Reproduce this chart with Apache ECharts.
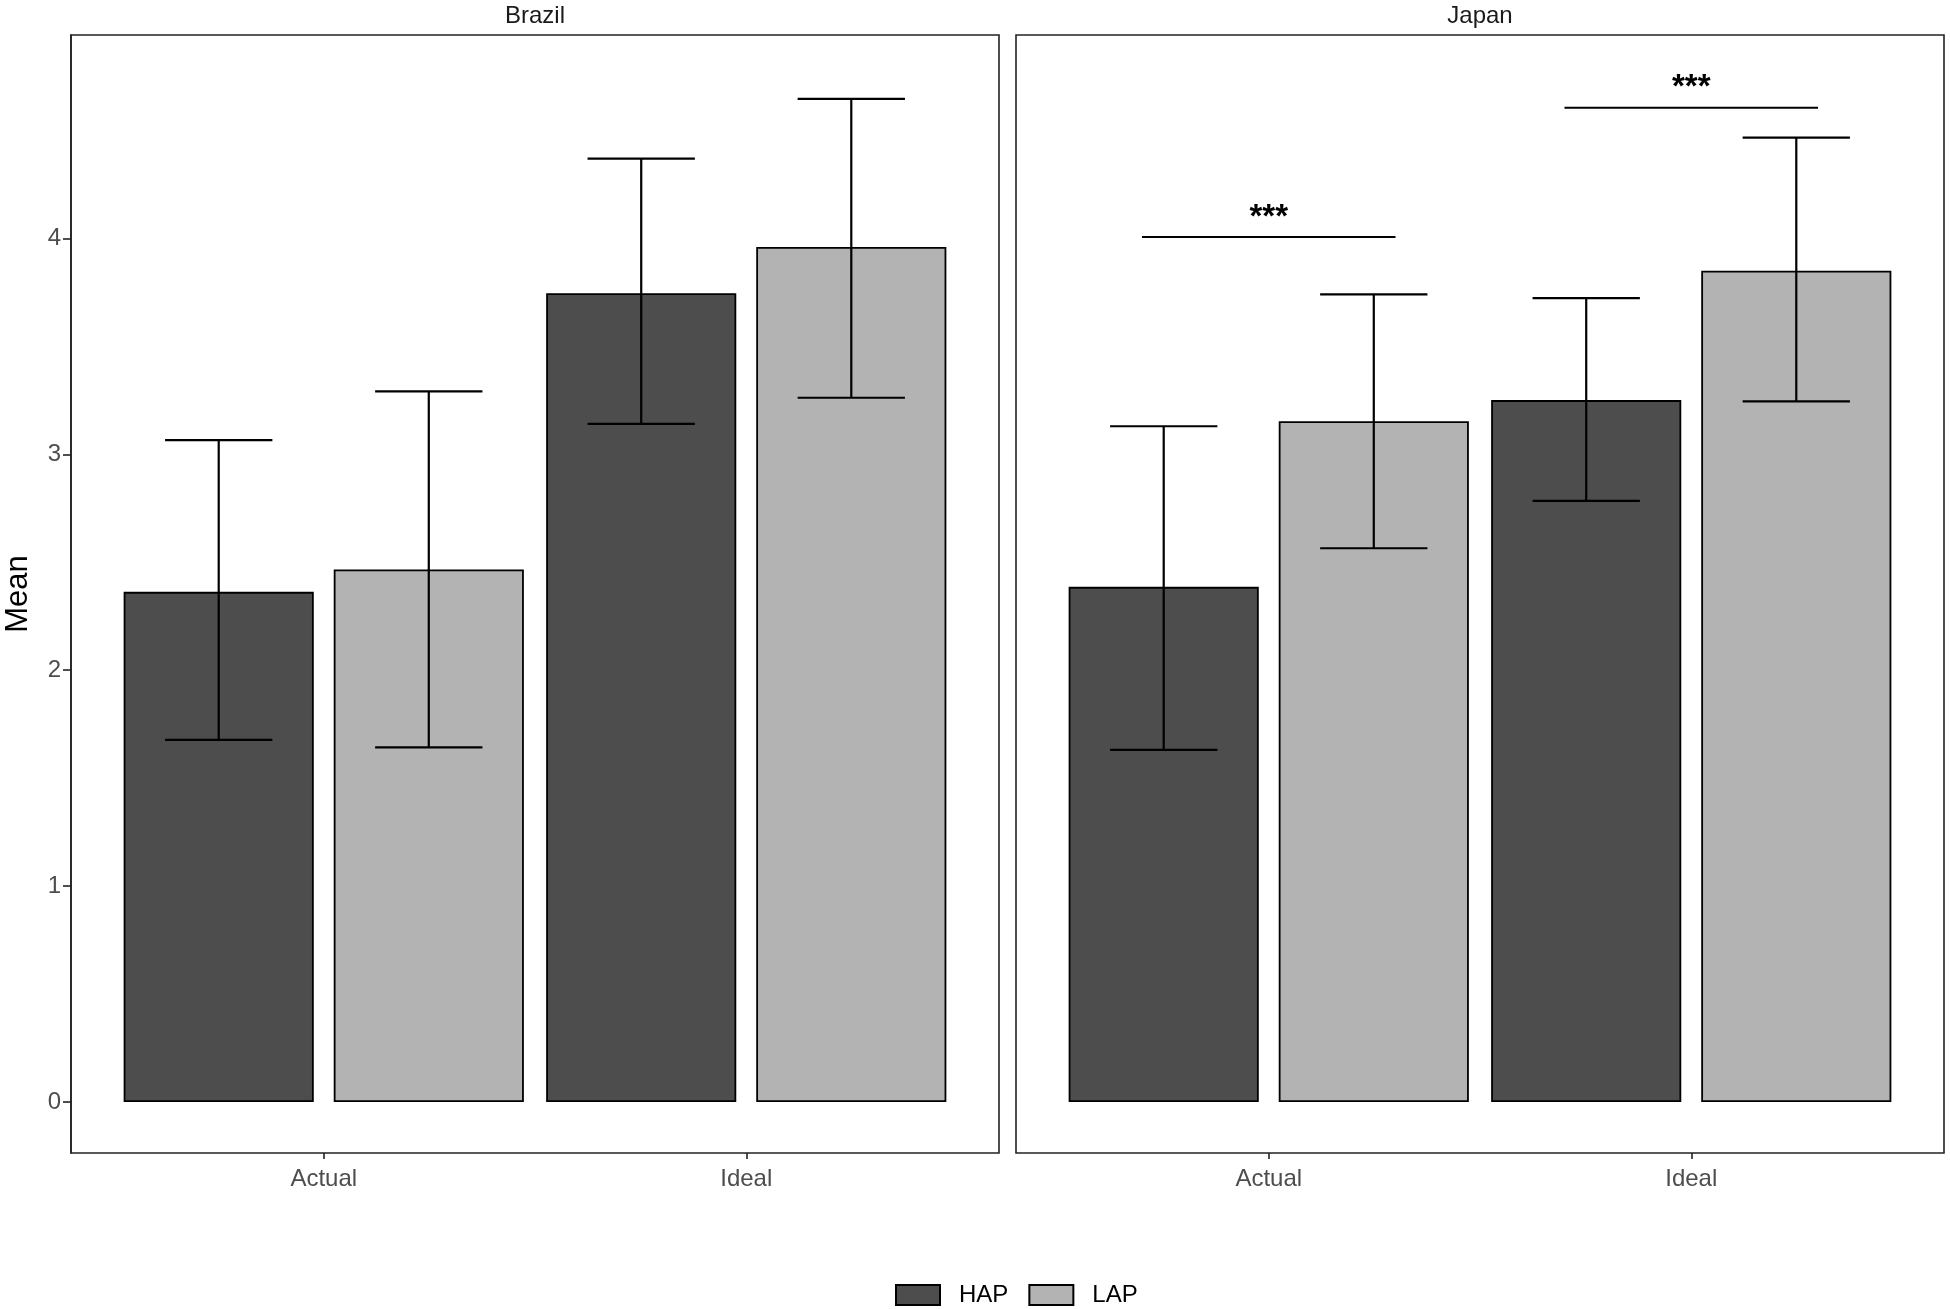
<!DOCTYPE html>
<html>
<head>
<meta charset="utf-8">
<script src="https://cdn.jsdelivr.net/npm/echarts@6/dist/echarts.min.js"></script>
<style>
html,body{margin:0;padding:0;background:#fff;}
#chart{width:1950px;height:1309px;}
</style>
</head>
<body>
<div id="chart"></div>
<script>
// ---- data ----
const categories = ['Actual', 'Ideal'];
const panels = ['Brazil', 'Japan'];
const groups = ['HAP', 'LAP'];
const yTicks = [0, 1, 2, 3, 4];

const brazilHAP = [2.363, 3.746];
const brazilHAPLow = [1.677, 3.141];
const brazilHAPHigh = [3.066, 4.369];
const brazilLAP = [2.467, 3.960];
const brazilLAPLow = [1.643, 3.262];
const brazilLAPHigh = [3.291, 4.646];

const japanHAP = [2.386, 3.251];
const japanHAPLow = [1.631, 2.784];
const japanHAPHigh = [3.130, 3.723];
const japanLAP = [3.153, 3.850];
const japanLAPLow = [2.565, 3.245];
const japanLAPHigh = [3.741, 4.467];

// significance brackets (Japan panel)
const sigCategory = [0, 1];
const sigLineY = [4.006, 4.605];
const sigLabel = ['***', '***'];

// ---- layout ----
const FONT = 'Liberation Sans, Arial, sans-serif';
const yMin = -0.236, yMax = 4.942;
const panelTop = 35, panelH = 1118;
const panelL = [71, 1016], panelW = 928;
const inset = 41.5;
const HAPcol = '#4D4D4D', LAPcol = '#B3B3B3';

const chart = echarts.init(document.getElementById('chart'), null, {renderer: 'canvas'});

const grids = [], xAxes = [], yAxes = [];
panels.forEach((p, i) => {
  grids.push({left: panelL[i], top: panelTop, width: panelW, height: panelH,
    show: true, borderColor: '#222', borderWidth: 1.6, backgroundColor: 'transparent', containLabel: false});
  grids.push({left: panelL[i] + inset, top: panelTop, width: panelW - 2 * inset, height: panelH, containLabel: false});
  xAxes.push({gridIndex: 2 * i, type: 'value', show: false, min: 0, max: 1});
  xAxes.push({gridIndex: 2 * i + 1, type: 'category', data: categories, position: 'bottom',
    axisLine: {show: false, onZero: false}, splitLine: {show: false},
    axisTick: {show: true, alignWithLabel: true, length: 6, lineStyle: {color: '#222', width: 1.6}},
    axisLabel: {fontFamily: FONT, fontSize: 24, color: '#4D4D4D', margin: 14}});
  yAxes.push({gridIndex: 2 * i, type: 'value', min: yMin, max: yMax,
    show: i === 0, splitLine: {show: false},
    axisLine: {show: true, onZero: false, lineStyle: {color: '#222', width: 1.6}},
    axisTick: {show: true, length: 8, customValues: yTicks, lineStyle: {color: '#222', width: 1.6}},
    axisLabel: {fontFamily: FONT, fontSize: 24, color: '#4D4D4D', margin: 10, customValues: yTicks},
    name: i === 0 ? 'Mean' : '', nameLocation: 'middle', nameGap: 37, nameRotate: 90,
    nameTextStyle: {fontFamily: FONT, fontSize: 31, color: '#000'}});
  yAxes.push({gridIndex: 2 * i + 1, type: 'value', min: yMin, max: yMax, show: false, splitLine: {show: false}});
});

function barSeries(name, data, color, axisIdx) {
  return {name: name, type: 'bar', xAxisIndex: axisIdx, yAxisIndex: axisIdx, data: data,
    barWidth: '45%', barGap: '10.5%',
    itemStyle: {color: color, borderColor: '#000', borderWidth: 1.8},
    emphasis: {disabled: true}, z: 2};
}

function errData(lowH, highH, lowL, highL) {
  const d = [];
  categories.forEach((c, k) => {
    d.push([k, lowH[k], highH[k], 0]);
    d.push([k, lowL[k], highL[k], 1]);
  });
  return d;
}

function errRender(params, api) {
  const cat = api.value(0), lo = api.value(1), hi = api.value(2), g = api.value(3);
  const band = api.size([1, 0])[0];
  const c = api.coord([cat, lo]);
  const x = c[0] + (g === 0 ? -1 : 1) * 0.2486 * band;
  const yLo = c[1];
  const yHi = api.coord([cat, hi])[1];
  const cap = 0.127 * band;
  const st = {stroke: '#000', lineWidth: 2.2};
  return {type: 'group', children: [
    {type: 'line', shape: {x1: x, y1: yLo, x2: x, y2: yHi}, style: st},
    {type: 'line', shape: {x1: x - cap, y1: yHi, x2: x + cap, y2: yHi}, style: st},
    {type: 'line', shape: {x1: x - cap, y1: yLo, x2: x + cap, y2: yLo}, style: st}
  ]};
}

function sigRender(params, api) {
  const cat = api.value(0), y = api.value(1);
  const band = api.size([1, 0])[0];
  const c = api.coord([cat, y]);
  const half = 0.3 * band;
  return {type: 'group', children: [
    {type: 'line', shape: {x1: c[0] - half, y1: c[1], x2: c[0] + half, y2: c[1]}, style: {stroke: '#000', lineWidth: 2}},
    {type: 'text', x: c[0], y: c[1] - 3, style: {text: sigLabel[params.dataIndex], fontFamily: FONT, fontSize: 33,
      fontWeight: 'bold', fill: '#000', align: 'center', verticalAlign: 'bottom'}}
  ]};
}

const series = [
  barSeries('HAP', brazilHAP, HAPcol, 1),
  barSeries('LAP', brazilLAP, LAPcol, 1),
  barSeries('HAP', japanHAP, HAPcol, 3),
  barSeries('LAP', japanLAP, LAPcol, 3),
  {type: 'custom', xAxisIndex: 1, yAxisIndex: 1, renderItem: errRender, z: 5, silent: true,
    data: errData(brazilHAPLow, brazilHAPHigh, brazilLAPLow, brazilLAPHigh)},
  {type: 'custom', xAxisIndex: 3, yAxisIndex: 3, renderItem: errRender, z: 5, silent: true,
    data: errData(japanHAPLow, japanHAPHigh, japanLAPLow, japanLAPHigh)},
  {type: 'custom', xAxisIndex: 3, yAxisIndex: 3, renderItem: sigRender, z: 5, silent: true,
    data: sigCategory.map((c, k) => [c, sigLineY[k]])}
];

chart.setOption({
  animation: false,
  backgroundColor: '#fff',
  title: panels.map((p, i) => ({text: p, left: panelL[i] + panelW / 2, top: 4, textAlign: 'center',
    padding: 0, textStyle: {fontFamily: FONT, fontSize: 24, fontWeight: 'normal', color: '#1A1A1A'}})),
  legend: {data: groups, left: 895, top: 1283, padding: 0, itemWidth: 44, itemHeight: 20, itemGap: 20,
    icon: 'rect', itemStyle: {borderColor: '#000', borderWidth: 2},
    textStyle: {fontFamily: FONT, fontSize: 24, color: '#000', padding: [0, 0, 0, 14]}},
  grid: grids,
  xAxis: xAxes,
  yAxis: yAxes,
  series: series
});
</script>
</body>
</html>
